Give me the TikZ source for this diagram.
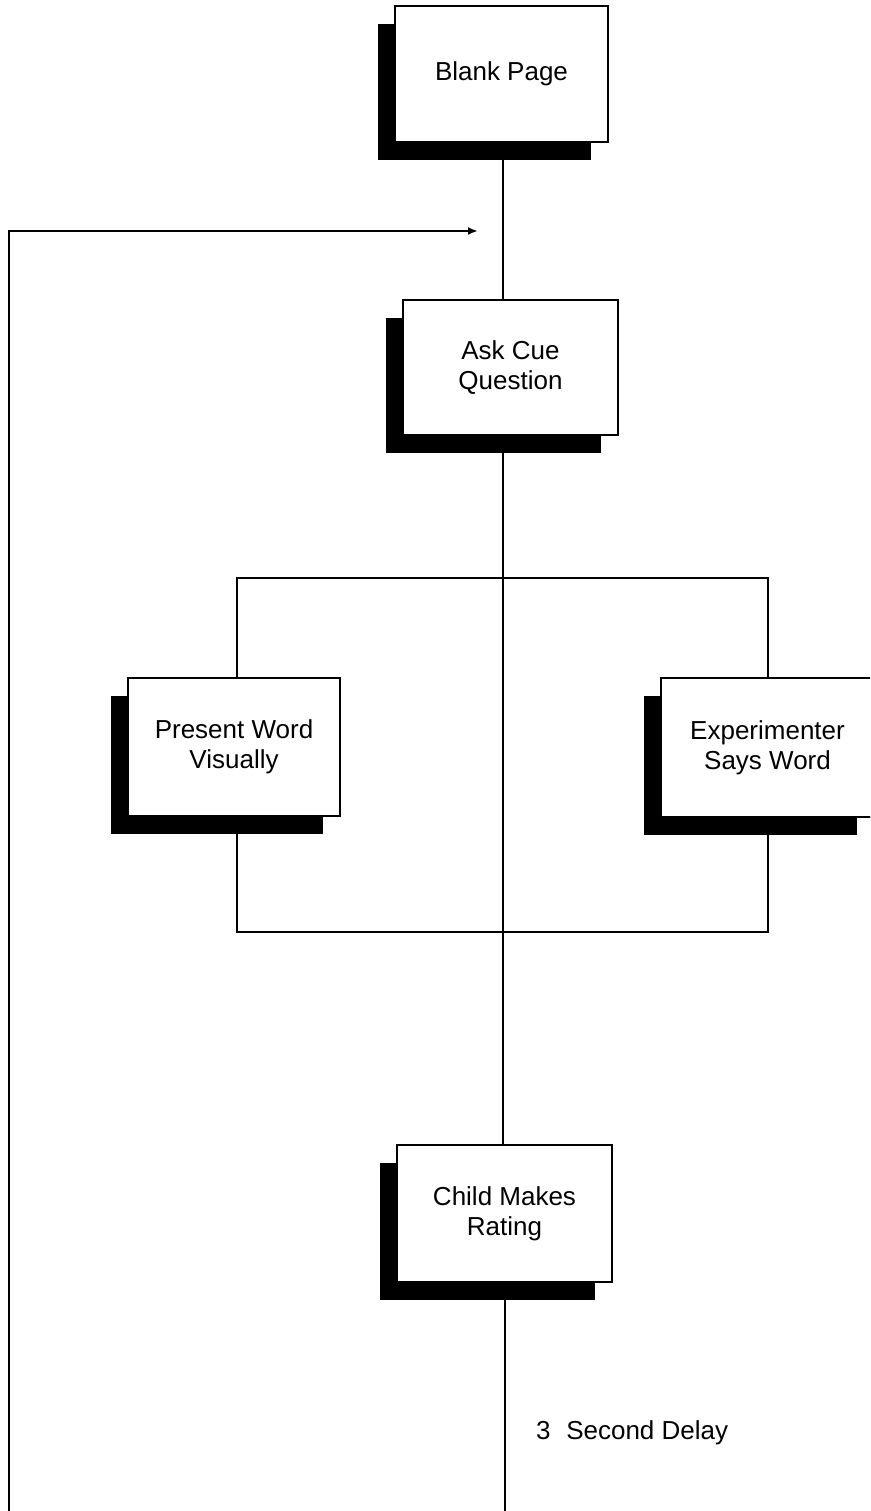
\documentclass[tikz,border=0pt]{standalone}
\usepackage{fontspec}
\setmainfont{Liberation Sans}
\usetikzlibrary{arrows.meta,shadows}
\begin{document}
\begin{tikzpicture}[x=1pt,y=-1pt,
  stepbox/.style={draw=black, line width=2pt, fill=white, align=center,
    font=\fontsize{26}{30}\selectfont, inner sep=0pt,
    general shadow={fill=black, shadow xshift=-17pt, shadow yshift=-18pt}},
  conn/.style={line width=2pt, draw=black},
  lbl/.style={font=\fontsize{26}{30}\selectfont, inner sep=0pt},
]
\path[use as bounding box] (0,0) rectangle (870,1511);
\clip (0,0) rectangle (870,1511);

\node[stepbox, minimum width=213pt, minimum height=136pt] (blank) at (501.5,74) {Blank Page};
\node[stepbox, minimum width=215pt, minimum height=135pt] (ask) at (510.5,367.5) {Ask Cue\\Question};
\node[stepbox, minimum width=212pt, minimum height=138pt] (present) at (234,747) {Present Word\\Visually};
\node[stepbox, minimum width=213pt, minimum height=139pt] (exper) at (767.5,747.5) {Experimenter\\Says Word};
\node[stepbox, minimum width=215pt, minimum height=137pt] (child) at (504.5,1213.5) {Child Makes\\Rating};

\coordinate (spine) at (503,0);
\coordinate (bl) at (237,578);
\coordinate (br) at (768,578);
\coordinate (bbl) at (237,932);
\coordinate (bbr) at (768,932);
\coordinate (bottomend) at (504,1515);
\coordinate (loopstart) at (9,1515);
\coordinate (loopcorner) at (9,231);
\coordinate (looptip) at (478,231);

\draw[conn] (blank.south -| spine) -- (ask.north -| spine);
\draw[conn] (ask.south -| spine) -- (child.north -| spine);
\draw[conn] (present.north -| bl) -- (bl) -- (br) -- (exper.north -| br);
\draw[conn] (present.south -| bbl) -- (bbl) -- (bbr) -- (exper.south -| bbr);
\draw[conn] (child.south) -- (child.south |- bottomend);
\draw[conn, -{Latex[length=10pt,width=8pt]}] (loopstart) -- (loopcorner) -- (looptip);

\node[lbl, anchor=west] (delay) at (536,1433) {3\hspace{0.6em}Second Delay};
\end{tikzpicture}
\end{document}
